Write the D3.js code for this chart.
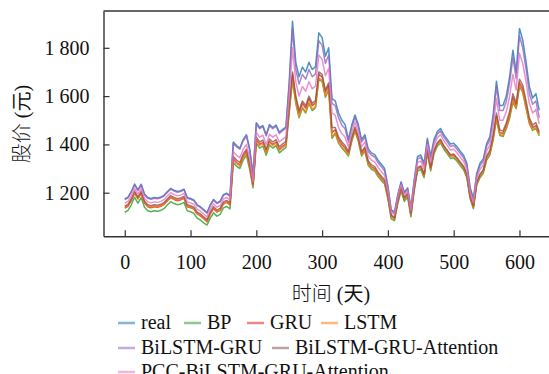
<!DOCTYPE html>
<html>
<head>
<meta charset="utf-8">
<script src="https://cdn.jsdelivr.net/npm/d3@7"></script>
<style>
  body { margin: 0; background: #fff; }
  svg { display: block; }
  text { font-family: "Liberation Serif", "Times New Roman", "Noto Sans CJK SC", serif; fill: #111; }
</style>
</head>
<body>
<div id="chart"></div>
<script>
// day index of every sample (every 5 days)
const days = d3.range(0, 631, 5);

const real = [1174,1182,1205,1236,1212,1235,1195,1180,1176,1180,1178,1182,1190,1205,1218,1210,1205,1208,1215,1180,1176,1170,1150,1142,1130,1118,1150,1172,1158,1165,1192,1198,1188,
  1410,1395,1385,1420,1440,1380,1275,1490,1470,1478,1440,1482,1470,1480,1450,1462,1472,
  1660,1910,1740,1680,1720,1700,1740,1710,1722,1862,1842,1765,1800,
  1590,1580,1530,1500,1482,1420,1480,1522,1482,1420,1440,1382,1365,1358,1335,1318,1300,1228,
  1130,1120,1192,1245,1202,1220,1138,1252,
  1350,1356,1322,1425,1350,1420,1452,1466,1440,1422,1402,1405,1390,1372,1355,1322,1222,1175,1280,1322,1340,
  1402,1432,1522,1662,1560,1562,1600,1680,1790,1700,1880,1832,1742,1640,1592,1610,1542];

const bp = [1119,1127,1150,1181,1157,1180,1140,1125,1121,1125,1123,1127,1135,1150,1163,1155,1150,1153,1160,1125,1121,1115,1095,1087,1075,1066,1095,1117,1103,1110,1137,1143,1133,
  1325,1310,1300,1335,1355,1295,1220,1405,1385,1393,1355,1397,1385,1395,1365,1377,1387,
  1530,1665,1570,1510,1550,1530,1570,1540,1552,1670,1660,1595,1625,
  1425,1445,1405,1385,1370,1352,1412,1454,1414,1352,1372,1314,1297,1290,1267,1250,1236,1175,
  1092,1084,1154,1207,1164,1182,1100,1208,
  1290,1296,1262,1365,1290,1360,1392,1406,1380,1362,1342,1345,1330,1312,1295,1262,1175,1134,1232,1262,1280,
  1334,1356,1418,1505,1438,1432,1465,1508,1575,1548,1640,1615,1550,1486,1458,1466,1436];

const gru = [1136,1144,1167,1198,1174,1197,1157,1142,1138,1142,1140,1144,1152,1167,1180,1172,1167,1170,1177,1142,1138,1132,1112,1104,1092,1080,1112,1134,1120,1127,1154,1160,1150,
  1340,1325,1315,1350,1370,1310,1230,1420,1400,1408,1370,1412,1400,1410,1380,1392,1402,
  1550,1690,1590,1530,1570,1550,1590,1560,1572,1690,1680,1615,1645,
  1450,1460,1420,1400,1385,1362,1422,1464,1424,1362,1382,1324,1307,1300,1277,1260,1246,1184,
  1102,1092,1164,1217,1174,1192,1110,1218,
  1300,1306,1272,1375,1300,1370,1402,1416,1390,1372,1352,1355,1340,1322,1305,1272,1183,1142,1240,1272,1290,
  1344,1366,1430,1518,1450,1445,1478,1522,1595,1560,1655,1630,1565,1498,1470,1478,1445];

const lstm = [1139,1147,1170,1201,1177,1200,1160,1145,1141,1145,1143,1147,1155,1170,1183,1175,1170,1173,1180,1145,1141,1135,1115,1107,1095,1083,1115,1137,1123,1130,1157,1163,1153,
  1335,1320,1310,1345,1365,1305,1228,1415,1395,1403,1365,1407,1395,1405,1375,1387,1397,
  1540,1670,1575,1515,1555,1535,1575,1545,1557,1675,1665,1600,1630,
  1430,1450,1410,1390,1375,1358,1418,1460,1420,1358,1378,1320,1303,1296,1273,1256,1242,1180,
  1103,1093,1165,1218,1175,1193,1111,1219,
  1298,1304,1270,1373,1298,1368,1400,1414,1388,1370,1350,1353,1338,1320,1303,1270,1181,1140,1238,1270,1288,
  1340,1362,1424,1510,1444,1438,1470,1512,1582,1550,1646,1620,1555,1490,1462,1470,1440];

const bilstmGru = [1171,1179,1202,1233,1209,1232,1192,1177,1173,1177,1175,1179,1187,1202,1215,1207,1202,1205,1212,1177,1173,1167,1147,1139,1127,1115,1147,1169,1155,1162,1189,1195,1185,
  1405,1390,1380,1415,1435,1375,1270,1485,1465,1473,1435,1477,1465,1475,1445,1457,1467,
  1640,1880,1710,1650,1690,1670,1710,1680,1692,1830,1810,1735,1770,
  1570,1560,1510,1480,1465,1410,1470,1512,1472,1410,1430,1372,1355,1348,1325,1308,1290,1220,
  1125,1115,1187,1240,1197,1215,1133,1247,
  1340,1346,1312,1415,1340,1410,1442,1456,1430,1412,1392,1395,1380,1362,1345,1312,1214,1168,1272,1312,1330,
  1392,1420,1505,1640,1540,1540,1578,1655,1760,1672,1850,1800,1712,1612,1566,1580,1510];

const attention = [1144,1152,1175,1206,1182,1205,1165,1150,1146,1150,1148,1152,1160,1175,1188,1180,1175,1178,1185,1150,1146,1140,1120,1112,1100,1088,1120,1142,1128,1135,1162,1168,1158,
  1350,1335,1325,1360,1380,1320,1235,1430,1410,1418,1380,1422,1410,1420,1390,1402,1412,
  1560,1700,1600,1540,1580,1560,1600,1570,1582,1700,1690,1625,1655,
  1470,1470,1430,1410,1395,1370,1430,1472,1432,1370,1390,1332,1315,1308,1285,1268,1254,1190,
  1108,1098,1170,1223,1180,1198,1116,1225,
  1305,1311,1277,1380,1305,1375,1407,1421,1395,1377,1357,1360,1345,1327,1310,1277,1188,1146,1245,1277,1295,
  1352,1375,1440,1530,1460,1455,1490,1535,1610,1570,1670,1645,1580,1510,1480,1490,1452];

const pcc = [1156,1164,1187,1218,1194,1217,1177,1162,1158,1162,1160,1164,1172,1187,1200,1192,1187,1190,1197,1162,1158,1152,1132,1124,1112,1100,1132,1154,1140,1147,1174,1180,1170,
  1370,1355,1345,1380,1400,1340,1245,1450,1430,1438,1400,1442,1430,1440,1410,1422,1432,
  1600,1800,1660,1600,1640,1620,1660,1630,1642,1770,1752,1685,1715,
  1530,1520,1470,1445,1430,1390,1450,1492,1452,1390,1410,1352,1335,1328,1305,1288,1272,1205,
  1118,1108,1180,1233,1190,1208,1126,1238,
  1325,1331,1297,1400,1325,1395,1427,1441,1415,1397,1377,1380,1365,1347,1330,1297,1202,1158,1260,1297,1315,
  1372,1398,1475,1590,1500,1500,1535,1600,1690,1625,1777,1735,1660,1570,1530,1545,1485];

const seriesNames = ["real", "BP", "GRU", "LSTM", "BiLSTM-GRU", "BiLSTM-GRU-Attention", "PCC-BiLSTM-GRU-Attention"];
const seriesValues = [real, bp, gru, lstm, bilstmGru, attention, pcc];
const colors = ["#1f77b4", "#2ca02c", "#d62728", "#ff7f0e", "#9467bd", "#8c564b", "#e377c2"];

const xTicks = [0, 100, 200, 300, 400, 500, 600];
const yTicks = [1200, 1400, 1600, 1800];
const xTitle = ["时间", "(天)"];
const yTitle = ["股价", "(元)"];

// drawing
const W = 549, H = 374;
const plot = {left: 103.5, right: 580, top: 11, bottom: 236.3};

const svg = d3.select("#chart").append("svg")
    .attr("width", W)
    .attr("height", H);

const x = d3.scaleLinear().domain([-32.3, 692]).range([plot.left, plot.right]);
const y = d3.scaleLinear().domain([1019.5, 1952.4]).range([plot.bottom, plot.top]);

// lines
const line = d3.line()
    .x((d, i) => x(days[i]))
    .y(d => y(d));

seriesValues.forEach((vals, k) => {
  svg.append("path")
      .datum(vals)
      .attr("fill", "none")
      .attr("stroke", colors[k])
      .attr("stroke-width", 1.5)
      .attr("stroke-opacity", 0.8)
      .attr("stroke-linejoin", "round")
      .attr("d", line);
});

// axes (ticks point inward)
const xAxis = svg.append("g")
    .attr("transform", "translate(0," + plot.bottom + ")")
    .call(d3.axisBottom(x).tickValues(xTicks).tickSize(-6).tickPadding(14).tickSizeOuter(0));
const yAxis = svg.append("g")
    .attr("transform", "translate(" + plot.left + ",0)")
    .call(d3.axisLeft(y).tickValues(yTicks).tickSize(-6).tickPadding(14).tickSizeOuter(0)
      .tickFormat(d => d3.format(",")(d).replace(",", " ")));

[xAxis, yAxis].forEach(g => {
  g.select(".domain").attr("stroke", "#333").attr("stroke-width", 1.4);
  g.selectAll(".tick line").attr("stroke", "#333").attr("stroke-width", 1.2);
  g.selectAll(".tick text").attr("font-size", 20).attr("fill", "#111")
      .style("font-family", "'Liberation Serif', serif");
});
xAxis.selectAll(".tick text").attr("dy", "0.95em");

// top frame
svg.append("line")
    .attr("x1", plot.left).attr("x2", plot.right)
    .attr("y1", plot.top).attr("y2", plot.top)
    .attr("stroke", "#333").attr("stroke-width", 1.4);

// titles: CJK part + serif brackets
function title(sel, parts) {
  sel.append("tspan")
      .style("font-family", "'Noto Sans CJK SC', sans-serif")
      .style("font-weight", 300)
      .text(parts[0]);
  sel.append("tspan")
      .style("font-family", "'Liberation Serif', 'Noto Sans CJK SC', serif")
      .text(" " + parts[1]);
}

svg.append("text")
    .attr("x", 331).attr("y", 301)
    .attr("text-anchor", "middle")
    .attr("font-size", 20)
    .call(title, xTitle);

svg.append("text")
    .attr("transform", "translate(29,124) rotate(-90)")
    .attr("text-anchor", "middle")
    .attr("font-size", 20)
    .call(title, yTitle);

// legend
const legendPos = [[118, 329], [184, 329], [247, 329], [321, 329], [118, 354], [272, 354], [118, 378]];
seriesNames.forEach((name, k) => {
  const g = svg.append("g").attr("transform", "translate(" + legendPos[k][0] + "," + legendPos[k][1] + ")");
  g.append("line")
      .attr("x1", 0).attr("x2", 17)
      .attr("y1", -6).attr("y2", -6)
      .attr("stroke", colors[k])
      .attr("stroke-width", 2.5)
      .attr("stroke-opacity", 0.55);
  g.append("text")
      .attr("x", 23)
      .attr("font-size", 20)
      .text(name);
});
</script>
</body>
</html>
